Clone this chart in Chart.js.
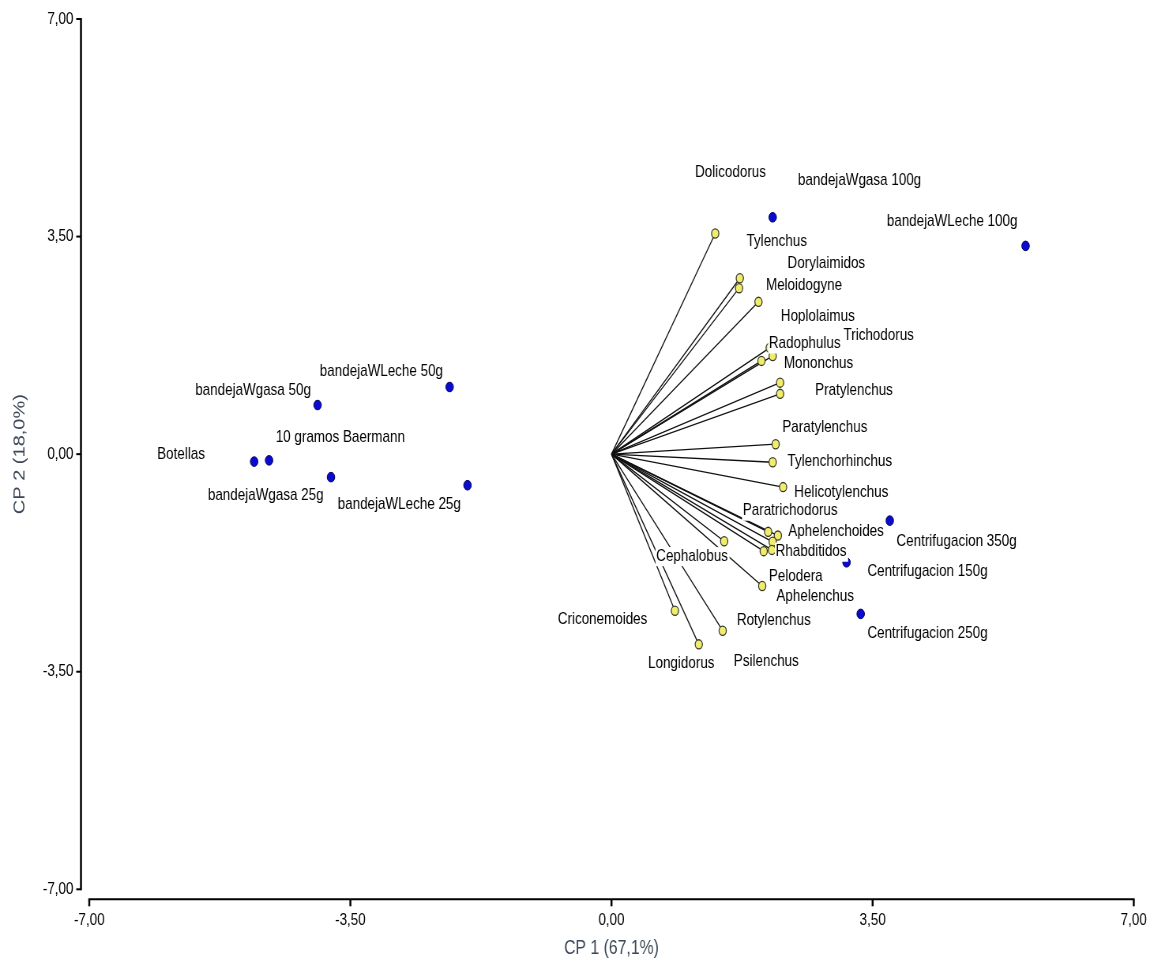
<!DOCTYPE html>
<html>
<head>
<meta charset="utf-8">
<script src="https://cdn.jsdelivr.net/npm/chart.js@4"></script>
<style>
  html, body { margin: 0; padding: 0; background: #fff; overflow: hidden; }
  canvas { display: block; }
</style>
</head>
<body>
<!-- drawn wide, then squeezed to 1150px like the reference picture -->
<canvas id="biplot" width="1456" height="959" style="width:1150px;height:959px"></canvas>
<script>
// tick values (both axes)
const ticksX = [-7, -3.5, 0, 3.5, 7];
const ticksY = [-7, -3.5, 0, 3.5, 7];

// sampling methods (blue dots)
const siteNames = ["bandejaWgasa 100g", "bandejaWLeche 100g", "bandejaWLeche 50g", "bandejaWgasa 50g",
  "Botellas", "10 gramos Baermann", "bandejaWgasa 25g", "bandejaWLeche 25g",
  "Centrifugacion 350g", "Centrifugacion 150g", "Centrifugacion 250g"];
const siteX = [2.16, 5.55, -2.17, -3.94, -4.79, -4.59, -3.76, -1.93, 3.73, 3.15, 3.34];
const siteY = [3.81, 3.35, 1.08, 0.79, -0.12, -0.10, -0.37, -0.50, -1.07, -1.74, -2.57];
const siteLabelX = [2.50, 3.69, -3.91, -5.58, -6.09, -4.50, -5.41, -3.67, 3.82, 3.43, 3.43];
const siteLabelY = [4.40, 3.75, 1.34, 1.03, 0.00, 0.27, -0.67, -0.80, -1.40, -1.89, -2.89];

// nematode genera (yellow vectors)
const varNames = ["Dolicodorus", "Tylenchus", "Dorylaimidos", "Meloidogyne", "Hoplolaimus", "Trichodorus",
  "Radophulus", "Mononchus", "Pratylenchus", "Paratylenchus", "Tylenchorhinchus", "Helicotylenchus",
  "Paratrichodorus", "Aphelenchoides", "Rhabditidos", "Psilenchus", "Aphelenchus", "Cephalobus",
  "Pelodera", "Criconemoides", "Longidorus", "Rotylenchus"];
const varX = [1.39, 1.72, 1.71, 1.97, 2.12, 2.16, 2.01, 2.26, 2.26, 2.20, 2.16, 2.30,
  2.10, 2.23, 2.16, 2.04, 2.15, 1.51, 2.02, 0.85, 1.17, 1.49];
const varY = [3.55, 2.83, 2.67, 2.45, 1.71, 1.58, 1.50, 1.15, 0.97, 0.16, -0.13, -0.53,
  -1.25, -1.31, -1.41, -1.56, -1.54, -1.40, -2.12, -2.52, -3.06, -2.84];
const varLabelX = [1.12, 1.81, 2.36, 2.07, 2.27, 3.11, 2.11, 2.31, 2.73, 2.29, 2.36, 2.45,
  1.76, 2.37, 2.20, 1.64, 2.21, 0.60, 2.11, -0.72, 0.49, 1.68];
const varLabelY = [4.53, 3.42, 3.07, 2.71, 2.21, 1.91, 1.78, 1.46, 1.03, 0.43, -0.11, -0.61,
  -0.91, -1.24, -1.57, -3.34, -2.28, -1.64, -1.97, -2.65, -3.36, -2.67];

const FONT = 'Arial, "Liberation Sans", sans-serif';
const fmt = v => Number(v).toFixed(2).replace(".", ",");

// one line dataset per vector, origin -> point
const vectorSets = varX.map((vx, i) => ({
  type: "line",
  data: [{ x: 0, y: 0 }, { x: vx, y: varY[i] }],
  borderColor: "#111",
  borderWidth: 1.3,
  pointRadius: 0,
  fill: false,
  order: 3
}));

// axis lines sit a little off the plot area, with outward ticks
const detachedAxes = {
  id: "detachedAxes",
  afterDraw(chart) {
    const { ctx, chartArea, scales: { x, y } } = chart;
    const ax = chartArea.left - 10.5;
    const ay = chartArea.bottom + 10;
    ctx.save();
    ctx.strokeStyle = "#000";
    ctx.lineCap = "butt";
    // y axis
    ctx.lineWidth = 2.5;
    ctx.beginPath();
    ctx.moveTo(ax, y.getPixelForValue(ticksY[ticksY.length - 1]) - 1);
    ctx.lineTo(ax, y.getPixelForValue(ticksY[0]) + 1);
    ctx.stroke();
    ctx.lineWidth = 2;
    y.ticks.forEach(t => {
      const py = y.getPixelForValue(t.value);
      ctx.beginPath();
      ctx.moveTo(ax, py);
      ctx.lineTo(ax - 6, py);
      ctx.stroke();
    });
    // x axis
    ctx.lineWidth = 2;
    ctx.beginPath();
    ctx.moveTo(x.getPixelForValue(ticksX[0]) - 1.2, ay);
    ctx.lineTo(x.getPixelForValue(ticksX[ticksX.length - 1]) + 1.2, ay);
    ctx.stroke();
    ctx.lineWidth = 2.5;
    x.ticks.forEach(t => {
      const px = x.getPixelForValue(t.value);
      ctx.beginPath();
      ctx.moveTo(px, ay);
      ctx.lineTo(px, ay + 7);
      ctx.stroke();
    });
    ctx.restore();
  }
};

// text labels with white boxes behind them
const pointLabels = {
  id: "pointLabels",
  afterDatasetsDraw(chart) {
    const { ctx, scales: { x, y } } = chart;
    ctx.save();
    ctx.font = "17px " + FONT;
    ctx.textAlign = "left";
    ctx.textBaseline = "middle";
    const put = (txt, lx, ly) => {
      const px = x.getPixelForValue(lx);
      const py = y.getPixelForValue(ly);
      const w = ctx.measureText(txt).width;
      ctx.fillStyle = "#fff";
      ctx.fillRect(px - 1, py - 9, w + 3, 19);
      ctx.fillStyle = "#000";
      ctx.fillText(txt, px, py);
    };
    varNames.forEach((n, i) => put(n, varLabelX[i], varLabelY[i]));
    siteNames.forEach((n, i) => put(n, siteLabelX[i], siteLabelY[i]));
    ctx.restore();
  }
};

// fixed box sizes, no extra label padding added by the layout
const noPad = s => { s.paddingTop = 0; s.paddingBottom = 0; s.paddingLeft = 0; s.paddingRight = 0; };

new Chart(document.getElementById("biplot"), {
  type: "scatter",
  data: {
    datasets: [
      {
        label: "Métodos",
        data: siteX.map((v, i) => ({ x: v, y: siteY[i] })),
        backgroundColor: "#0b0bd0",
        borderColor: "#00005c",
        borderWidth: 1,
        pointRadius: 4.8,
        order: 1
      },
      {
        label: "Géneros",
        data: varX.map((v, i) => ({ x: v, y: varY[i] })),
        backgroundColor: "#f1ed6c",
        borderColor: "#3a3a2c",
        borderWidth: 1.3,
        pointRadius: 4.6,
        order: 2
      },
      ...vectorSets
    ]
  },
  options: {
    responsive: false,
    devicePixelRatio: 1,
    animation: false,
    layout: { padding: { left: 0, right: 20.6, top: 19, bottom: 0 } },
    plugins: { legend: { display: false }, tooltip: { enabled: false } },
    scales: {
      x: {
        type: "linear",
        min: -7, max: 7,
        afterBuildTicks: s => { s.ticks = ticksX.map(v => ({ value: v })); },
        afterFit: s => { s.height = 69.7; noPad(s); },
        grid: { display: false, drawTicks: false },
        border: { display: false },
        ticks: { padding: 21, color: "#000", font: { family: FONT, size: 17 }, callback: fmt, maxRotation: 0 },
        title: {
          display: true, text: "CP 1 (67,1%)", color: "#3b4858",
          font: { family: FONT, size: 20, lineHeight: 1.1 }, padding: { top: 0, bottom: 0 }
        }
      },
      y: {
        type: "linear",
        min: -7, max: 7,
        afterBuildTicks: s => { s.ticks = ticksY.map(v => ({ value: v })); },
        afterFit: s => { s.width = 113; noPad(s); },
        grid: { display: false, drawTicks: false },
        border: { display: false },
        ticks: { padding: 20, color: "#000", font: { family: FONT, size: 17 }, callback: fmt },
        title: {
          display: true, text: "CP 2 (18,0%)", color: "#3b4858",
          font: { family: FONT, size: 20, lineHeight: 1.2 }, padding: { top: 13, bottom: 0 }
        }
      }
    }
  },
  plugins: [detachedAxes, pointLabels]
});
</script>
</body>
</html>
